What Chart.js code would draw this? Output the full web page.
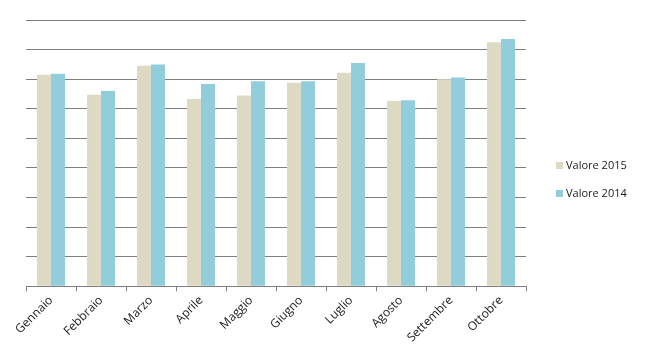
<!DOCTYPE html>
<html>
<head>
<meta charset="utf-8">
<script src="https://cdn.jsdelivr.net/npm/chart.js@4"></script>
<style>
  body { margin: 0; background: #fff; }
  #wrap { position: relative; width: 650px; height: 359px; }
  #legend { position: absolute; left: 556px; top: 158px; font: 11px "Open Sans", sans-serif; color: #1a1a1a; }
  #legend div { height: 27.5px; line-height: 14px; white-space: nowrap; }
  #legend span.box { display: inline-block; width: 7px; height: 7px; margin-right: 3px; vertical-align: 0px; }
</style>
</head>
<body>
<div id="wrap">
  <canvas id="chart" width="650" height="359"></canvas>
  <div id="legend"></div>
</div>
<script>
const mesi = ['Gennaio', 'Febbraio', 'Marzo', 'Aprile', 'Maggio', 'Giugno', 'Luglio', 'Agosto', 'Settembre', 'Ottobre'];
const valore2015 = [7.15, 6.47, 7.45, 6.33, 6.45, 6.88, 7.22, 6.26, 7.00, 8.25];
const valore2014 = [7.18, 6.60, 7.50, 6.84, 6.93, 6.93, 7.55, 6.29, 7.06, 8.36];

let ctx = document.getElementById('chart');
let chart = new Chart(ctx, {
    type: 'bar',
    data: {
        labels: mesi,
        datasets: [
            { label: 'Valore 2015', data: valore2015, backgroundColor: '#ddd9c3' },
            { label: 'Valore 2014', data: valore2014, backgroundColor: '#92cddc' }
        ]
    },
    options: {
        responsive: false,
        animation: false,
        layout: { padding: { left: 26, right: 124, top: 20, bottom: 12 } },
        plugins: { legend: { display: false }, tooltip: { enabled: false } },
        datasets: { bar: { categoryPercentage: 0.56, barPercentage: 1.0 } },
        scales: {
            x: {
                offset: true,
                grid: { display: true, offset: true, drawOnChartArea: false, drawTicks: true, tickLength: 5, color: '#7f7f7f' },
                border: { display: true, color: '#7f7f7f' },
                ticks: { maxRotation: 45, minRotation: 45, color: '#1a1a1a', font: { family: 'Open Sans', size: 12 }, padding: 2 }
            },
            y: {
                min: 0, max: 9,
                ticks: { display: false, stepSize: 1 },
                grid: { color: '#7f7f7f', drawTicks: false },
                border: { display: false }
            }
        }
    }
});

let legend = document.getElementById('legend');
chart.data.datasets.forEach(ds => {
    let row = document.createElement('div');
    row.innerHTML = '<span class="box" style="background:' + ds.backgroundColor + '"></span>' + ds.label;
    legend.appendChild(row);
});
</script>
</body>
</html>
